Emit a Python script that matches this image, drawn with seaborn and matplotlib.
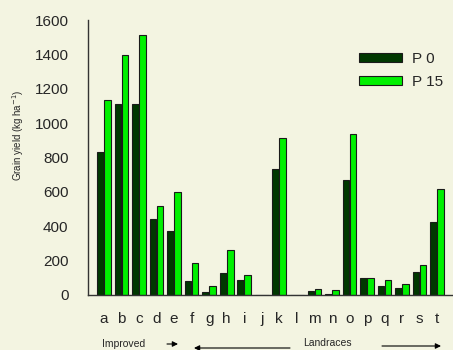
import matplotlib
matplotlib.use("Agg")
import matplotlib.pyplot as plt
import seaborn as sns
import pandas as pd

categories = list("abcdefghijklmnopqrst")
p0 = [831, 1111, 1111, 444, 375, 79, 17, 126, 87, 0, 734, 0, 21, 6, 672, 99, 50, 41, 132, 423]
p15 = [1134, 1397, 1511, 520, 601, 187, 50, 259, 114, 0, 912, 0, 35, 27, 939, 97, 89, 62, 174, 618]
series = ["P 0", "P 15"]
yticks = [0, 200, 400, 600, 800, 1000, 1200, 1400, 1600]

df = pd.DataFrame({
    "cat": categories * 2,
    "val": p0 + p15,
    "ser": [series[0]] * len(categories) + [series[1]] * len(categories),
})

sns.set_theme(style="white")
plt.rcParams["font.family"] = ["Liberation Sans", "DejaVu Sans"]

W, H = 453, 350
fig = plt.figure(figsize=(W / 100, H / 100), dpi=100)
bg = "#f3f4e1"
fig.patch.set_facecolor(bg)
ax = fig.add_axes([88 / W, 1 - 295 / H, (452 - 88) / W, (295 - 20) / H])
ax.set_facecolor(bg)

sns.barplot(data=df, x="cat", y="val", hue="ser", order=categories, hue_order=series,
            palette=["#003800", "#00f000"], saturation=1, width=0.8, gap=0.05,
            edgecolor="#1a1a1a", linewidth=0.8, ax=ax)

ax.set_ylim(0, 1600)
ax.set_xlim(-0.91, 19.85)
ax.set_yticks(yticks)
ax.set_yticklabels([str(t) for t in yticks], fontsize=11)
ax.tick_params(axis="x", labelsize=11, length=0, pad=12)
ax.tick_params(axis="y", length=0, pad=14)
ax.set_xlabel("")
ax.set_ylabel("")
for s in ["top", "right"]:
    ax.spines[s].set_visible(False)
for s in ["left", "bottom"]:
    ax.spines[s].set_color("#333333")
    ax.spines[s].set_linewidth(1.0)

leg = ax.legend(loc="upper left", bbox_to_anchor=((345 - 88) / (452 - 88), 1 - (38 - 20) / 275),
                frameon=False, fontsize=11, handlelength=2.8, handleheight=0.5,
                handletextpad=0.7, labelspacing=0.6)

fig.text(18 / W, 1 - 135 / H, "Grain yield (kg ha$^{-1}$)", rotation=90,
         fontsize=7, ha="center", va="center")
fig.text(102 / W, 1 - 344 / H, "Improved", fontsize=7.5, ha="left", va="center")
fig.text(303 / W, 1 - 343 / H, "Landraces", fontsize=7.5, ha="left", va="center")
for (x0, x1, y) in [(167, 178, 344), (290, 194, 348), (382, 441, 346)]:
    fig.add_artist(matplotlib.patches.FancyArrowPatch((x0 / W, 1 - y / H), (x1 / W, 1 - y / H),
                   transform=fig.transFigure, arrowstyle="-|>", mutation_scale=8, lw=0.8,
                   color="black", shrinkA=0, shrinkB=0))

fig.savefig("out.png", dpi=100, facecolor=bg)
